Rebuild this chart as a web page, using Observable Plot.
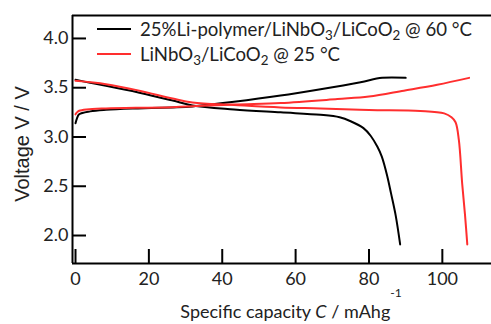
<!DOCTYPE html>
<html>
<head>
<meta charset="utf-8">
<script src="https://cdn.jsdelivr.net/npm/d3@7"></script>
<script src="https://cdn.jsdelivr.net/npm/@observablehq/plot@0.6"></script>
<style>
  html, body { margin: 0; padding: 0; background: #fff; }
  #chart svg { display: block; }
</style>
</head>
<body>
<div id="chart"></div>
<script>
// ---- data ----
const seriesNames = ["25%Li-polymer/LiNbO3/LiCoO2 @ 60 °C", "LiNbO3/LiCoO2 @ 25 °C"];
const seriesColors = ["#000000", "#ff2e2e"];

// 60 °C cell (black)
const black60Discharge = [
  [0, 3.58], [4, 3.55], [8.3, 3.52], [17.4, 3.45], [26.5, 3.37], [31.9, 3.32],
  [43.2, 3.28], [55.9, 3.25], [66.8, 3.225], [72, 3.20], [75, 3.16], [78.5, 3.09],
  [80.5, 3.01], [82.3, 2.90], [83.5, 2.80], [85, 2.60], [86, 2.43], [87.3, 2.20], [88.5, 1.91]
];
const black60Charge = [
  [0, 3.14], [0.4, 3.19], [1.0, 3.23], [4, 3.26], [8.3, 3.276], [17, 3.29], [26.5, 3.30],
  [31.9, 3.31], [43.2, 3.357], [55.9, 3.42], [66.8, 3.485], [77.7, 3.556], [83.6, 3.60], [90, 3.60]
];
// 25 °C cell (red)
const red25Discharge = [
  [0, 3.57], [8.3, 3.536], [17.4, 3.47], [26.5, 3.39], [31.9, 3.35], [43.2, 3.325],
  [55.9, 3.30], [66.8, 3.29], [80, 3.275], [94, 3.265], [100.5, 3.24], [102.5, 3.20],
  [103.6, 3.15], [104.5, 2.97], [105.4, 2.53], [106.2, 2.20], [106.8, 1.91]
];
const red25Charge = [
  [0, 3.23], [0.4, 3.25], [1, 3.266], [3, 3.28], [8.3, 3.29], [26.5, 3.303], [43.2, 3.33],
  [55.9, 3.345], [71.4, 3.385], [80, 3.41], [89.5, 3.47], [98.6, 3.53], [107.3, 3.60]
];

const xTicks = [0, 20, 40, 60, 80, 100];
const yTicks = [2.0, 2.5, 3.0, 3.5, 4.0];
const xDomain = [-0.82, 113.4];
const yDomain = [1.716, 4.233];

// ---- build rows ----
const curves = [
  {key: "b-dis", s: 0, pts: black60Discharge},
  {key: "b-chg", s: 0, pts: black60Charge},
  {key: "r-dis", s: 1, pts: red25Discharge},
  {key: "r-chg", s: 1, pts: red25Charge}
];
const rows = curves.flatMap(c => c.pts.map(([x, y]) => ({x, y, key: c.key, s: c.s})));

const W = 491, H = 324, mL = 72, mR = 0, mT = 15, mB = 61;
const frameW = W - mL - mR, frameH = H - mT - mB, tickLen = 14;

const plot = Plot.plot({
  width: W, height: H,
  marginLeft: mL, marginRight: mR, marginTop: mT, marginBottom: mB,
  style: {fontFamily: "Lato, 'Open Sans', sans-serif", fontSize: "18px", background: "#fff", overflow: "visible"},
  x: {domain: xDomain},
  y: {domain: yDomain},
  marks: [
    Plot.tickX(xTicks, {x: d => d, insetTop: frameH - tickLen, stroke: "#000", strokeWidth: 2}),
    Plot.tickY(yTicks, {y: d => d, insetRight: frameW - tickLen, stroke: "#000", strokeWidth: 2}),
    Plot.axisX(xTicks, {tickSize: 0, tickPadding: 9, label: null, fontSize: 18, fill: "#222"}),
    Plot.axisY(yTicks, {tickSize: 0, tickPadding: 4, label: null, fontSize: 18, fill: "#222", tickFormat: d3.format(".1f")}),
    Plot.line(rows.filter(d => d.s === 0), {x: "x", y: "y", z: "key", stroke: seriesColors[0], strokeWidth: 2, curve: "catmull-rom"}),
    Plot.line(rows.filter(d => d.s === 1), {x: "x", y: "y", z: "key", stroke: seriesColors[1], strokeWidth: 2, curve: "catmull-rom"}),
    // axis frame: top, bottom and left edges
    Plot.ruleY(yDomain, {y: d => d, stroke: "#000", strokeWidth: 2}),
    Plot.ruleX([xDomain[0]], {x: d => d, y1: yDomain[0], y2: yDomain[1], stroke: "#000", strokeWidth: 2})
  ]
});
document.getElementById("chart").appendChild(plot);

// ---- legend and axis titles (real text, with sub/superscripts) ----
const svg = d3.select(plot);
const font = "Lato, 'Open Sans', sans-serif";

function addChem(textSel, str) {
  // digits after O become subscripts (LiNbO3, LiCoO2)
  const parts = str.split(/(O[23])/).filter(p => p.length);
  let pendingDy = 0;
  parts.forEach(p => {
    if (/^O[23]$/.test(p)) {
      const o = textSel.append("tspan").text("O");
      if (pendingDy) o.attr("dy", pendingDy + "em");
      textSel.append("tspan").attr("font-size", "0.72em").attr("dy", "0.3em").text(p[1]);
      pendingDy = -0.216; // 0.3em of the smaller font, back to baseline
    } else {
      const s = textSel.append("tspan").text(p);
      if (pendingDy) s.attr("dy", pendingDy + "em");
      pendingDy = 0;
    }
  });
}

const legend = svg.append("g");
const legY = [29, 54];
seriesNames.forEach((name, i) => {
  legend.append("line")
    .attr("x1", 97).attr("x2", 131).attr("y1", legY[i]).attr("y2", legY[i])
    .attr("stroke", seriesColors[i]).attr("stroke-width", 2);
  const t = legend.append("text")
    .attr("x", 140).attr("y", legY[i] + 7)
    .attr("text-anchor", "start")
    .attr("font-family", font).attr("font-size", 18.6).attr("fill", "#222");
  addChem(t, name);
});

// x title
const xt = svg.append("text")
  .attr("x", 291).attr("y", 318).attr("text-anchor", "middle")
  .attr("font-family", font).attr("font-size", 18).attr("fill", "#222");
xt.append("tspan").text("Specific capacity ");
xt.append("tspan").attr("font-style", "italic").text("C");
xt.append("tspan").text(" / mAhg");
xt.append("tspan").attr("font-size", 12).attr("dy", -21).text("-1");

// y title
svg.append("text")
  .attr("transform", "translate(29,144) rotate(-90)")
  .attr("text-anchor", "middle")
  .attr("font-family", "'Liberation Sans', Arial, sans-serif").attr("font-size", 20).attr("fill", "#222")
  .text("Voltage V / V");
</script>
</body>
</html>
